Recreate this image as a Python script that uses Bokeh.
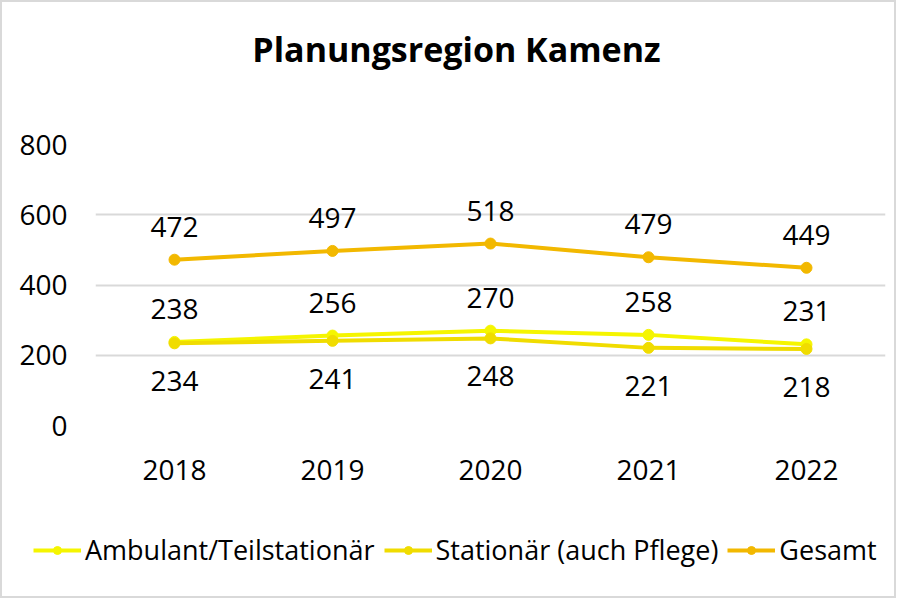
from bokeh.plotting import figure
from bokeh.layouts import column
from bokeh.models import (ColumnDataSource, FactorRange, LabelSet, Label, Legend,
                          LegendItem, Range1d, SingleIntervalTicker)
from bokeh.embed import file_html
from bokeh.resources import INLINE
from bokeh.core.properties import value

years = ["2018", "2019", "2020", "2021", "2022"]
ambulant = [238, 256, 270, 258, 231]
stationaer = [234, 241, 248, 221, 218]
gesamt = [472, 497, 518, 479, 449]
series_names = ["Ambulant/Teilstationär", "Stationär (auch Pflege)", "Gesamt"]
colors = ["#F5F500", "#F0DC00", "#F2B800"]
title_text = "Planungsregion Kamenz"

FONT = "Open Sans"
FS = "28px"
W = 892

src = ColumnDataSource(dict(
    x=years, amb=ambulant, sta=stationaer, ges=gesamt,
    amb_t=[str(v) for v in ambulant],
    sta_t=[str(v) for v in stationaer],
    ges_t=[str(v) for v in gesamt],
))

xr = FactorRange(*years, range_padding=0)

# ---- header with title ----
hd = figure(width=W, height=100, x_range=Range1d(0, 1), y_range=Range1d(0, 1),
            output_backend="svg", toolbar_location=None,
            x_axis_location=None, y_axis_location=None,
            min_border_left=0, min_border_right=0, min_border_top=0,
            min_border_bottom=0)
hd.frame_align = False
hd.outline_line_color = None
hd.grid.grid_line_color = None
hd.add_layout(Label(x=454, y=54, x_units="screen", y_units="screen", text=title_text,
                    text_align="center", text_baseline="middle",
                    text_font=FONT, text_font_size="34px",
                    text_font_style="bold", text_color="#000000"))

# ---- main chart ----
p = figure(width=W, height=400, x_range=xr,
           y_range=Range1d(0, 800), output_backend="svg", toolbar_location=None,
           min_border_left=93, min_border_right=9, min_border_top=42,
           min_border_bottom=77)
p.frame_align = False
p.outline_line_color = None
p.background_fill_color = "white"
p.border_fill_color = "white"

p.yaxis.ticker = SingleIntervalTicker(interval=200)
p.yaxis.axis_line_color = None
p.yaxis.major_tick_line_color = None
p.yaxis.minor_tick_line_color = None
p.yaxis.major_label_text_font = FONT
p.yaxis.major_label_text_font_size = FS
p.yaxis.major_label_text_color = "#000000"
p.yaxis.major_label_standoff = 22

p.xaxis.axis_line_color = None
p.xaxis.major_tick_line_color = None
p.xaxis.minor_tick_line_color = None
p.xaxis.major_label_text_font = FONT
p.xaxis.major_label_text_font_size = FS
p.xaxis.major_label_text_color = "#000000"
p.xaxis.major_label_standoff = 28

p.xgrid.grid_line_color = None
p.ygrid.grid_line_color = "#D9D9D9"
p.ygrid.grid_line_width = 2

keys = ["amb", "sta", "ges"]
for key, col in zip(keys, colors):
    p.line("x", key, source=src, line_color=col, line_width=4)
    p.scatter("x", key, source=src, size=11, fill_color=col, line_color=col)

for key, off in [("amb", 33), ("sta", -38), ("ges", 33)]:
    p.add_layout(LabelSet(x="x", y=key, text=key + "_t", source=src,
                          y_offset=off, text_align="center", text_baseline="middle",
                          text_font=value(FONT), text_font_size=FS,
                          text_color="#000000"))

# ---- legend strip (same series, out of its view range, only the legend shows) ----
lg = figure(width=W, height=94, x_range=xr, y_range=Range1d(-2, -1),
            output_backend="svg", toolbar_location=None,
            x_axis_location=None, y_axis_location=None,
            min_border_left=0, min_border_right=0, min_border_top=0,
            min_border_bottom=0)
lg.frame_align = False
lg.outline_line_color = None
lg.grid.grid_line_color = None
items = []
for key, name, col in zip(keys, series_names, colors):
    l = lg.line("x", key, source=src, line_color=col, line_width=4)
    s = lg.scatter("x", key, source=src, size=11, fill_color=col, line_color=col)
    items.append(LegendItem(label=name, renderers=[l, s]))

legend = Legend(items=items, orientation="horizontal", location=(31, 28),
                glyph_width=48, glyph_height=20, label_standoff=4, spacing=9,
                padding=0, margin=0, border_line_color=None,
                background_fill_alpha=0,
                label_text_font=FONT, label_text_font_size="27px",
                label_text_color="#000000")
lg.add_layout(legend, "center")

layout = column(hd, p, lg, spacing=0, styles={"border": "2px solid #D9D9D9"})

open("out.html", "w").write(file_html(layout, INLINE))
